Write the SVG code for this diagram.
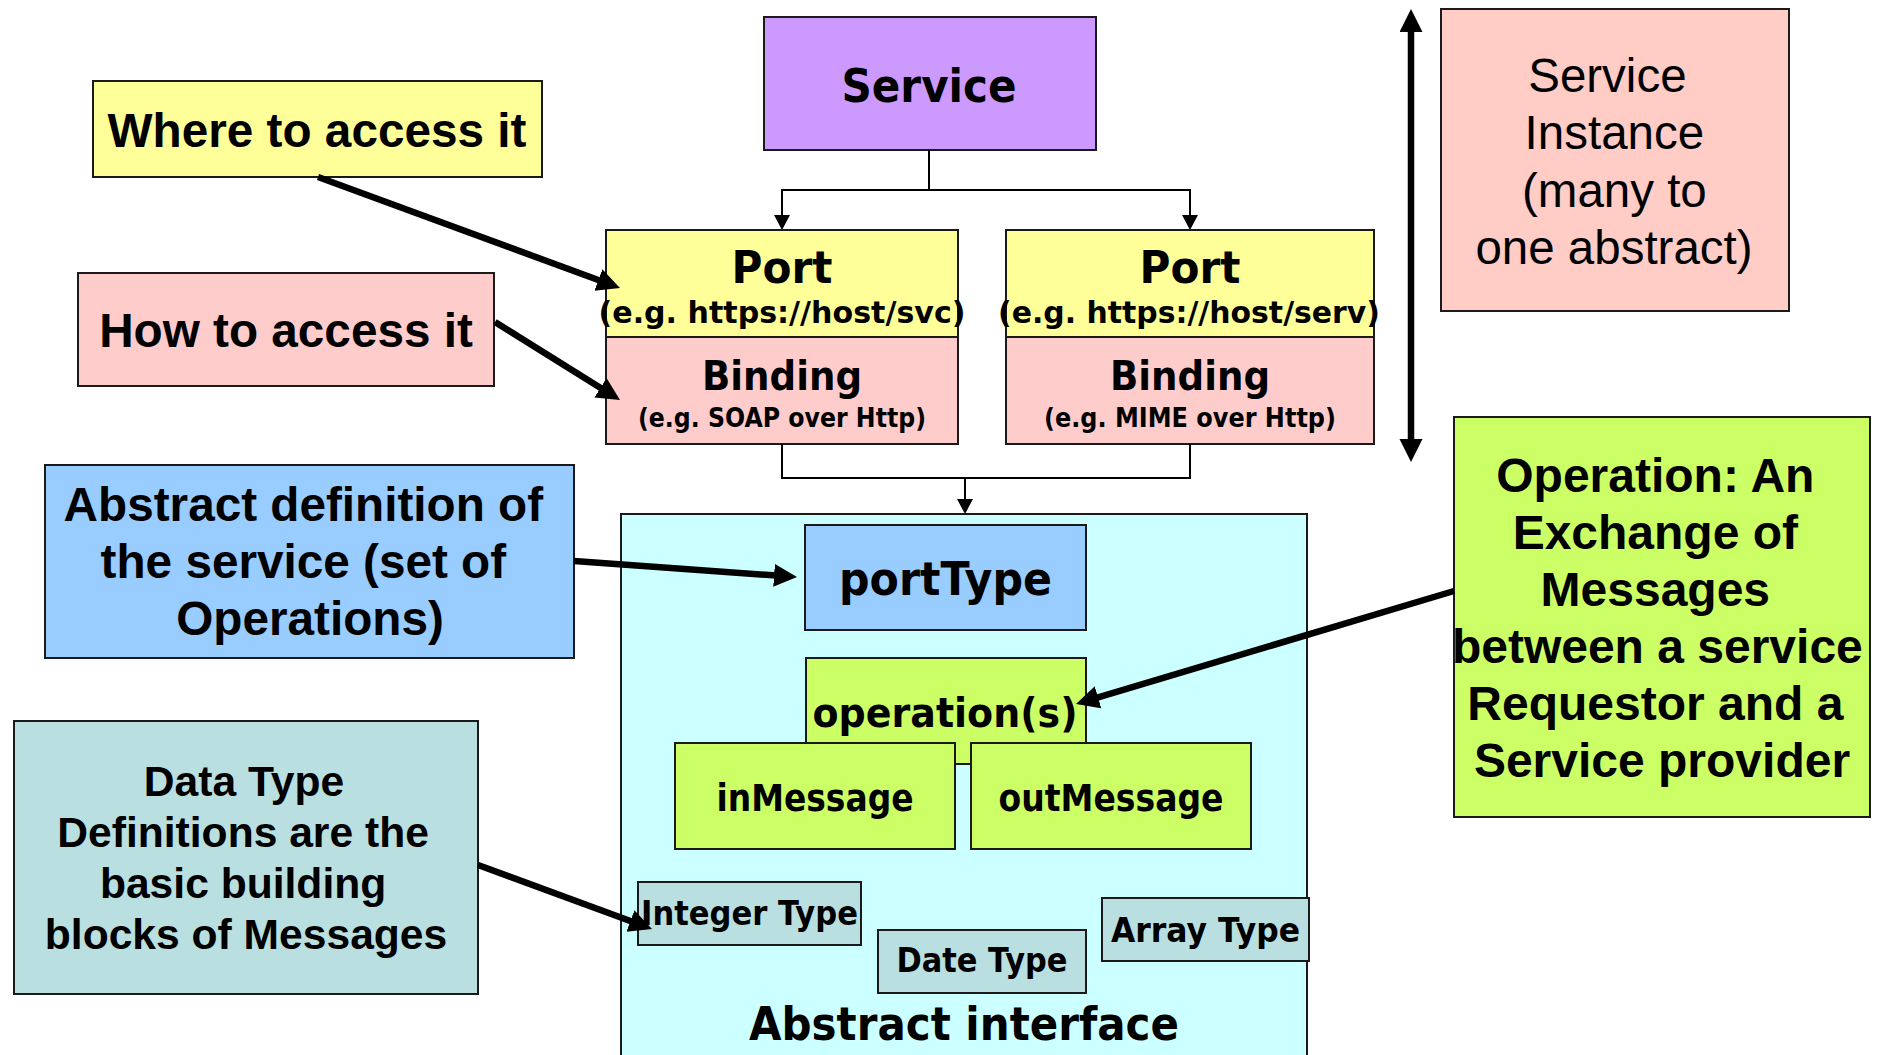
<svg xmlns="http://www.w3.org/2000/svg" width="1883" height="1055" viewBox="0 0 1883 1055">
  <defs>
    <style>
      .box { stroke: #1a1a1a; stroke-width: 2; }
      .v { font-family: "DejaVu Sans", Verdana, sans-serif; font-weight: bold; fill: #000; text-anchor: middle; }
      .h { font-family: "Liberation Sans", Arial, Helvetica, sans-serif; font-weight: bold; fill: #000; text-anchor: middle; }
      .hr { font-family: "Liberation Sans", Arial, Helvetica, sans-serif; font-weight: normal; fill: #000; text-anchor: middle; }
      .thin { fill: none; stroke: #000; stroke-width: 2; }
      .thick { fill: none; stroke: #000; stroke-width: 6.5; }
    </style>
    <marker id="arrowThin" markerUnits="userSpaceOnUse" markerWidth="16" markerHeight="16" refX="13" refY="8" orient="auto">
      <path d="M0,0 L15,8 L0,16 z" fill="#000"/>
    </marker>
    <marker id="arrowThick" markerUnits="userSpaceOnUse" markerWidth="24" markerHeight="24" refX="13" refY="11.5" orient="auto-start-reverse">
      <path d="M0,0 L23,11.5 L0,23 z" fill="#000"/>
    </marker>
  </defs>

  <rect x="0" y="0" width="1883" height="1055" fill="#ffffff"/>

  <!-- abstract interface container -->
  <g id="abstract-interface">
    <rect class="box" x="621" y="514" width="686" height="560" fill="#ccffff"/>
    <text class="v" x="964" y="1040" font-size="46" textLength="430" lengthAdjust="spacingAndGlyphs">Abstract interface</text>
  </g>

  <g id="service">
    <rect class="box" x="764" y="17" width="332" height="133" fill="#cc99ff"/>
    <text class="v" x="929" y="102" font-size="46" textLength="175" lengthAdjust="spacingAndGlyphs">Service</text>
  </g>

  <g id="port-svc">
    <rect class="box" x="606" y="230" width="352" height="107" fill="#ffff99"/>
    <text class="v" x="782" y="283" font-size="45" textLength="101" lengthAdjust="spacingAndGlyphs">Port</text>
    <text class="v" x="782" y="323" font-size="31" textLength="367" lengthAdjust="spacingAndGlyphs">(e.g. https://host/svc)</text>
  </g>
  <g id="binding-soap">
    <rect class="box" x="606" y="337" width="352" height="107" fill="#ffcccc"/>
    <text class="v" x="782" y="390" font-size="40" textLength="160" lengthAdjust="spacingAndGlyphs">Binding</text>
    <text class="v" x="782" y="427" font-size="26" textLength="288" lengthAdjust="spacingAndGlyphs">(e.g. SOAP over Http)</text>
  </g>

  <g id="port-serv">
    <rect class="box" x="1006" y="230" width="368" height="107" fill="#ffff99"/>
    <text class="v" x="1190" y="283" font-size="45" textLength="101" lengthAdjust="spacingAndGlyphs">Port</text>
    <text class="v" x="1189" y="323" font-size="31" textLength="382" lengthAdjust="spacingAndGlyphs">(e.g. https://host/serv)</text>
  </g>
  <g id="binding-mime">
    <rect class="box" x="1006" y="337" width="368" height="107" fill="#ffcccc"/>
    <text class="v" x="1190" y="390" font-size="40" textLength="160" lengthAdjust="spacingAndGlyphs">Binding</text>
    <text class="v" x="1190" y="427" font-size="26" textLength="292" lengthAdjust="spacingAndGlyphs">(e.g. MIME over Http)</text>
  </g>

  <g id="porttype">
    <rect class="box" x="805" y="525" width="281" height="105" fill="#99ccff"/>
    <text class="v" x="945.5" y="595" font-size="46" textLength="213" lengthAdjust="spacingAndGlyphs">portType</text>
  </g>

  <g id="operations">
    <rect class="box" x="806" y="658" width="280" height="106" fill="#ccff66"/>
    <text class="v" x="945" y="727" font-size="41" textLength="265" lengthAdjust="spacingAndGlyphs">operation(s)</text>
  </g>

  <g id="in-message">
    <rect class="box" x="675" y="743" width="280" height="106" fill="#ccff66"/>
    <text class="v" x="815" y="811" font-size="37" textLength="197" lengthAdjust="spacingAndGlyphs">inMessage</text>
  </g>

  <g id="out-message">
    <rect class="box" x="971" y="743" width="280" height="106" fill="#ccff66"/>
    <text class="v" x="1111" y="811" font-size="37" textLength="225" lengthAdjust="spacingAndGlyphs">outMessage</text>
  </g>

  <g id="integer-type">
    <rect class="box" x="638" y="882" width="223" height="63" fill="#badfe1"/>
    <text class="v" x="749.5" y="925" font-size="34" textLength="217" lengthAdjust="spacingAndGlyphs">Integer Type</text>
  </g>

  <g id="date-type">
    <rect class="box" x="878" y="930" width="208" height="63" fill="#badfe1"/>
    <text class="v" x="982" y="972" font-size="34" textLength="171" lengthAdjust="spacingAndGlyphs">Date Type</text>
  </g>

  <g id="array-type">
    <rect class="box" x="1102" y="898" width="207" height="63" fill="#badfe1"/>
    <text class="v" x="1205.5" y="942" font-size="34" textLength="189" lengthAdjust="spacingAndGlyphs">Array Type</text>
  </g>

  <!-- annotations -->
  <g id="note-where">
    <rect class="box" x="93" y="81" width="449" height="96" fill="#ffff99"/>
    <text class="h" x="317" y="147" font-size="47.7">Where to access it</text>
  </g>

  <g id="note-how">
    <rect class="box" x="78" y="273" width="416" height="113" fill="#ffcccc"/>
    <text class="h" x="286" y="347" font-size="47.7">How to access it</text>
  </g>

  <g id="note-abstract">
    <rect class="box" x="45" y="465" width="529" height="193" fill="#99ccff"/>
    <text class="h" font-size="47.7">
      <tspan x="310" y="521">Abstract definition of</tspan>
      <tspan x="310" y="578">the service (set of</tspan>
      <tspan x="310" y="635">Operations)</tspan>
    </text>
  </g>

  <g id="note-datatypes">
    <rect class="box" x="14" y="721" width="464" height="273" fill="#badfe1"/>
    <text class="h" font-size="42.6">
      <tspan x="250" y="796">Data Type</tspan>
      <tspan x="249" y="847">Definitions are the</tspan>
      <tspan x="249" y="898">basic building</tspan>
      <tspan x="246" y="949">blocks of Messages</tspan>
    </text>
  </g>

  <g id="note-instance">
    <rect class="box" x="1441" y="9" width="348" height="302" fill="#ffccc6"/>
    <text class="hr" font-size="47.5">
      <tspan x="1614" y="92">Service</tspan>
      <tspan x="1621" y="149">Instance</tspan>
      <tspan x="1621" y="207">(many to</tspan>
      <tspan x="1614" y="264">one abstract)</tspan>
    </text>
  </g>

  <g id="note-operation">
    <rect class="box" x="1454" y="417" width="416" height="400" fill="#ccff66"/>
    <text class="h" font-size="48">
      <tspan x="1662" y="492">Operation: An</tspan>
      <tspan x="1662" y="549">Exchange of</tspan>
      <tspan x="1662" y="606">Messages</tspan>
      <tspan x="1664" y="663">between a service</tspan>
      <tspan x="1662" y="720">Requestor and a</tspan>
      <tspan x="1662" y="777">Service provider</tspan>
    </text>
  </g>

  <!-- connectors -->
  <g id="connectors">
    <path class="thin" d="M929,150 V190 H782 V228" marker-end="url(#arrowThin)"/>
    <path class="thin" d="M929,190 H1190 V228" marker-end="url(#arrowThin)"/>
    <path class="thin" d="M782,444 V478 H1190 V444"/>
    <path class="thin" d="M965,478 V512" marker-end="url(#arrowThin)"/>

    <line class="thick" x1="318" y1="177" x2="610.6" y2="284.5" marker-end="url(#arrowThick)"/>
    <line class="thick" x1="495" y1="322" x2="611.5" y2="394.7" marker-end="url(#arrowThick)"/>
    <line class="thick" x1="574" y1="561" x2="787" y2="576.3" marker-end="url(#arrowThick)"/>
    <line class="thick" x1="478" y1="865" x2="642.6" y2="925.5" marker-end="url(#arrowThick)"/>
    <line class="thick" x1="1454" y1="591" x2="1085.6" y2="701.1" marker-end="url(#arrowThick)"/>

    <line class="thick" x1="1411" y1="19" x2="1411" y2="452" stroke-width="7" marker-start="url(#arrowThick)" marker-end="url(#arrowThick)"/>
  </g>
</svg>
